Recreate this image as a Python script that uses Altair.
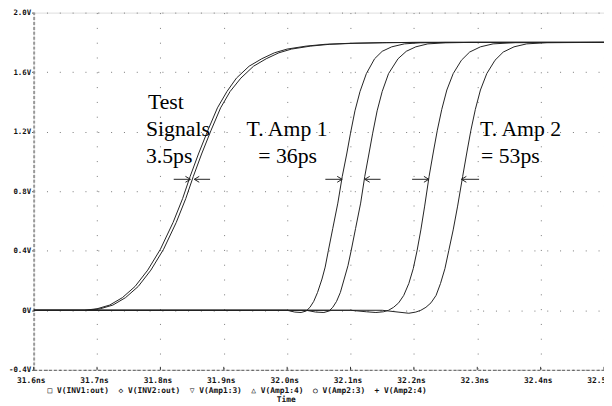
import json
import altair as alt
import pandas as pd

# ---------------- data ----------------
x_ticks = [31.6, 31.7, 31.8, 31.9, 32.0, 32.1, 32.2, 32.3, 32.4, 32.5]
x_labels = ["31.6ns", "31.7ns", "31.8ns", "31.9ns", "32.0ns", "32.1ns", "32.2ns", "32.3ns", "32.4ns", "32.5ns"]
y_ticks = [-0.4, 0.0, 0.4, 0.8, 1.2, 1.6, 2.0]
y_labels = ["-0.4V", "0V", "0.4V", "0.8V", "1.2V", "1.6V", "2.0V"]

inv1_t = [31.60, 31.68, 31.70, 31.72, 31.74, 31.76, 31.78, 31.80, 31.82, 31.835, 31.847, 31.86, 31.875, 31.89, 31.905, 31.92, 31.94, 31.96, 31.98, 32.00, 32.03, 32.06, 32.10, 32.15, 32.20, 32.50]
inv1_v = [0.0, 0.0, 0.01, 0.035, 0.085, 0.16, 0.27, 0.41, 0.59, 0.75, 0.90, 1.05, 1.21, 1.36, 1.47, 1.56, 1.64, 1.69, 1.73, 1.755, 1.775, 1.787, 1.794, 1.798, 1.80, 1.80]

inv2_t = [31.60, 31.685, 31.705, 31.725, 31.745, 31.765, 31.785, 31.805, 31.825, 31.84, 31.852, 31.865, 31.88, 31.895, 31.91, 31.927, 31.947, 31.967, 31.987, 32.007, 32.037, 32.067, 32.107, 32.157, 32.21, 32.50]
inv2_v = [0.0, 0.0, 0.01, 0.035, 0.085, 0.16, 0.27, 0.41, 0.59, 0.75, 0.90, 1.05, 1.21, 1.36, 1.47, 1.56, 1.64, 1.69, 1.73, 1.755, 1.775, 1.787, 1.794, 1.798, 1.80, 1.80]

amp13_t = [31.60, 32.00, 32.012, 32.022, 32.030, 32.036, 32.042, 32.048, 32.055, 32.060, 32.065, 32.072, 32.080, 32.087, 32.094, 32.100, 32.107, 32.115, 32.125, 32.138, 32.150, 32.165, 32.185, 32.21, 32.25, 32.50]
amp13_v = [0.0, 0.0, -0.012, -0.015, -0.005, 0.02, 0.06, 0.12, 0.21, 0.29, 0.40, 0.55, 0.72, 0.90, 1.05, 1.19, 1.34, 1.47, 1.59, 1.69, 1.74, 1.77, 1.79, 1.797, 1.80, 1.80]

amp14_t = [31.60, 32.03, 32.045, 32.058, 32.066, 32.072, 32.078, 32.084, 32.090, 32.096, 32.101, 32.108, 32.116, 32.1225, 32.129, 32.135, 32.142, 32.150, 32.160, 32.175, 32.188, 32.203, 32.222, 32.25, 32.29, 32.50]
amp14_v = [0.0, 0.0, -0.012, -0.015, -0.005, 0.02, 0.06, 0.12, 0.21, 0.30, 0.40, 0.55, 0.72, 0.90, 1.05, 1.19, 1.34, 1.47, 1.59, 1.69, 1.74, 1.77, 1.79, 1.797, 1.80, 1.80]

amp23_t = [31.60, 32.10, 32.125, 32.140, 32.152, 32.160, 32.168, 32.176, 32.184, 32.192, 32.199, 32.205, 32.211, 32.217, 32.224, 32.231, 32.237, 32.244, 32.252, 32.262, 32.275, 32.288, 32.305, 32.325, 32.36, 32.50]
amp23_v = [0.0, 0.0, -0.01, -0.015, -0.01, 0.0, 0.02, 0.05, 0.10, 0.18, 0.28, 0.40, 0.54, 0.70, 0.90, 1.07, 1.21, 1.35, 1.48, 1.59, 1.68, 1.735, 1.77, 1.79, 1.798, 1.80]

amp24_t = [31.60, 32.15, 32.175, 32.192, 32.203, 32.211, 32.219, 32.227, 32.235, 32.242, 32.249, 32.255, 32.262, 32.269, 32.277, 32.284, 32.290, 32.297, 32.305, 32.315, 32.328, 32.341, 32.358, 32.378, 32.41, 32.50]
amp24_v = [0.0, 0.0, -0.012, -0.02, -0.012, 0.0, 0.02, 0.05, 0.10, 0.18, 0.28, 0.40, 0.54, 0.70, 0.90, 1.07, 1.21, 1.35, 1.48, 1.59, 1.68, 1.735, 1.77, 1.79, 1.798, 1.80]

series_names = ["V(INV1:out)", "V(INV2:out)", "V(Amp1:3)", "V(Amp1:4)", "V(Amp2:3)", "V(Amp2:4)"]
legend_symbols = ["\u25a1", "\u25c7", "\u25bd", "\u25b3", "\u25cb", "+"]

# annotation texts (data coordinates: ns, V)
ann_text = ["Test", "Signals", "3.5ps", "T. Amp 1", "= 36ps", "T. Amp 2", "= 53ps"]
ann_t = [31.7804, 31.7773, 31.7773, 31.9360, 31.9546, 32.3045, 32.3060]
ann_v = [1.350, 1.171, 0.992, 1.171, 0.992, 1.171, 0.992]

# measurement arrows: tail, tip (ns) at level (V)
arrow_tail = [31.821, 31.8784, 32.0603, 32.1474, 32.1972, 32.3029]
arrow_tip = [31.8473, 31.8535, 32.0868, 32.1225, 32.2236, 32.2750]
arrow_level = [0.88, 0.88, 0.88, 0.88, 0.88, 0.88]

x_title = "Time"

# ---------------- build tables ----------------
rows = []
for name, ts, vs in zip(series_names,
                        [inv1_t, inv2_t, amp13_t, amp14_t, amp23_t, amp24_t],
                        [inv1_v, inv2_v, amp13_v, amp14_v, amp23_v, amp24_v]):
    for i, (t, v) in enumerate(zip(ts, vs)):
        rows.append({"series": name, "t": t, "v": v, "o": i})
df = pd.DataFrame(rows)

NBSP = "\u00a0"
legend_line = (NBSP * 2).join(s + NBSP + n for s, n in zip(legend_symbols, series_names))

ann_df = pd.DataFrame({"text": ann_text, "t": ann_t, "v": ann_v})
arr_df = pd.DataFrame({"tail": arrow_tail, "tip": arrow_tip, "v": arrow_level})
arr_df["dir"] = ["r" if tp > tl else "l" for tl, tp in zip(arrow_tail, arrow_tip)]
tick_df = pd.DataFrame({"t": x_ticks})

W, H = 578, 362
MONO = "DejaVu Sans Mono"
SERIF = "Liberation Serif"

x_label_expr = "%s[indexof(%s, datum.value)]" % (json.dumps(x_labels), json.dumps(x_ticks))
y_label_expr = "%s[indexof(%s, datum.value)]" % (json.dumps(y_labels), json.dumps(y_ticks))

x_scale = alt.Scale(domain=[31.6, 32.5], nice=False, zero=False)
y_scale = alt.Scale(domain=[-0.4, 2.0], nice=False, zero=False)

x_axis = alt.Axis(values=x_ticks, labelExpr=x_label_expr, title=None, grid=True,
                  gridDash=[1, 14], gridColor="#777", gridWidth=1, ticks=False,
                  domainDash=[3, 2], domainColor="#555", domainWidth=1,
                  labelFont=MONO, labelFontSize=8, labelFontWeight="bold",
                  labelColor="#111", labelPadding=7, labelFlush=False, labelOffset=-3)
y_axis = alt.Axis(values=y_ticks, labelExpr=y_label_expr, title=None, grid=True,
                  gridDash=[1, 12], gridColor="#777", gridWidth=1,
                  tickSize=2, tickColor="#333",
                  domainDash=[3, 2], domainColor="#999", domainWidth=2,
                  labelFont=MONO, labelFontSize=7.5, labelFontWeight="bold",
                  labelColor="#111", labelPadding=1)

lines = alt.Chart(df).mark_line(strokeWidth=1, color="#222", clip=True).encode(
    x=alt.X("t:Q", scale=x_scale, axis=x_axis),
    y=alt.Y("v:Q", scale=y_scale, axis=y_axis),
    detail="series:N",
    order="o:Q",
)

texts = alt.Chart(ann_df).mark_text(font=SERIF, fontSize=22, align="left",
                                    baseline="alphabetic", color="#000").encode(
    x=alt.X("t:Q", scale=x_scale), y=alt.Y("v:Q", scale=y_scale), text="text:N")

shafts = alt.Chart(arr_df).mark_rule(color="#222", strokeWidth=1).encode(
    x=alt.X("tail:Q", scale=x_scale), x2="tip:Q", y=alt.Y("v:Q", scale=y_scale))

heads_r = alt.Chart(arr_df).transform_filter("datum.dir == 'r'").mark_point(
    shape="M-1,-0.6L0,0L-1,0.6", size=100, filled=False, stroke="#222", strokeWidth=1, opacity=1).encode(
    x=alt.X("tip:Q", scale=x_scale), y=alt.Y("v:Q", scale=y_scale))
heads_l = alt.Chart(arr_df).transform_filter("datum.dir == 'l'").mark_point(
    shape="M1,-0.6L0,0L1,0.6", size=100, filled=False, stroke="#222", strokeWidth=1, opacity=1).encode(
    x=alt.X("tip:Q", scale=x_scale), y=alt.Y("v:Q", scale=y_scale))

xticks_in = alt.Chart(tick_df).mark_rule(color="#333", strokeWidth=1).encode(
    x=alt.X("t:Q", scale=x_scale), y=alt.value(H), y2=alt.value(H - 3))

legend = alt.Chart(pd.DataFrame({"text": [legend_line]})).mark_text(
    font=MONO, fontSize=8, fontWeight="bold", align="left", baseline="middle", color="#111").encode(
    x=alt.value(14), y=alt.value(H + 21), text="text:N")

title = alt.Chart(pd.DataFrame({"text": [x_title]})).mark_text(
    font=MONO, fontSize=8, fontWeight="bold", align="center", baseline="middle", color="#111").encode(
    x=alt.value(256), y=alt.value(H + 31), text="text:N")

chart = alt.layer(lines, shafts, heads_r, heads_l, texts, xticks_in, legend, title).properties(
    width=W, height=H,
    autosize=alt.AutoSizeParams(type="none"),
    padding={"left": 26, "top": 2, "right": 0, "bottom": 34},
).configure_view(stroke="#555", strokeDash=[3, 2], strokeWidth=1).configure(background="white")

chart.save("out.html", embed_options={"renderer": "svg", "actions": False})
